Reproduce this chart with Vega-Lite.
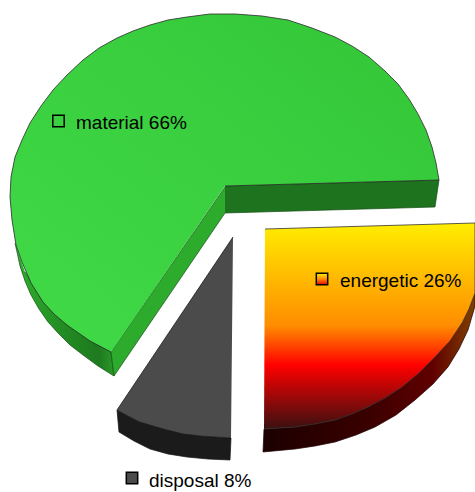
{"$schema":"https://vega.github.io/schema/vega-lite/v6.json","autosize":"none","width":475,"height":492,"padding":0,"background":"white","view":{"stroke":null},
"datasets":{"shapes":[
{"part":"matOuter","x":15,"y":243},{"part":"matOuter","x":17,"y":252},{"part":"matOuter","x":20,"y":266},{"part":"matOuter","x":25,"y":281},{"part":"matOuter","x":31,"y":295},{"part":"matOuter","x":39,"y":309},{"part":"matOuter","x":48,"y":322},{"part":"matOuter","x":58,"y":333},{"part":"matOuter","x":70,"y":345},{"part":"matOuter","x":83,"y":355},{"part":"matOuter","x":98,"y":366},{"part":"matOuter","x":114,"y":376},{"part":"matOuter","x":111,"y":352},{"part":"matOuter","x":90,"y":340},{"part":"matOuter","x":67,"y":324},{"part":"matOuter","x":43,"y":300},{"part":"matOuter","x":25,"y":272},
{"part":"matInner","x":225,"y":187},{"part":"matInner","x":111,"y":352},{"part":"matInner","x":114,"y":376},{"part":"matInner","x":225,"y":213},
{"part":"matBack","x":225,"y":186},{"part":"matBack","x":439,"y":180},{"part":"matBack","x":435,"y":207},{"part":"matBack","x":225,"y":213},
{"part":"matTop","x":225,"y":186},{"part":"matTop","x":439,"y":180},{"part":"matTop","x":436,"y":163},{"part":"matTop","x":432,"y":147},{"part":"matTop","x":426,"y":130},{"part":"matTop","x":418,"y":114},{"part":"matTop","x":409,"y":99},{"part":"matTop","x":398,"y":84},{"part":"matTop","x":385,"y":71},{"part":"matTop","x":369,"y":57},{"part":"matTop","x":352,"y":46},{"part":"matTop","x":335,"y":37},{"part":"matTop","x":312,"y":28},{"part":"matTop","x":288,"y":20},{"part":"matTop","x":262,"y":16},{"part":"matTop","x":235,"y":14},{"part":"matTop","x":210,"y":14},{"part":"matTop","x":187,"y":17},{"part":"matTop","x":168,"y":20},{"part":"matTop","x":150,"y":25},{"part":"matTop","x":133,"y":31},{"part":"matTop","x":117,"y":38},{"part":"matTop","x":99,"y":48},{"part":"matTop","x":83,"y":60},{"part":"matTop","x":67,"y":75},{"part":"matTop","x":53,"y":90},{"part":"matTop","x":41,"y":106},{"part":"matTop","x":30,"y":123},{"part":"matTop","x":22,"y":140},{"part":"matTop","x":15,"y":157},{"part":"matTop","x":11,"y":177},{"part":"matTop","x":10,"y":197},{"part":"matTop","x":12,"y":220},{"part":"matTop","x":16,"y":245},{"part":"matTop","x":22,"y":262},{"part":"matTop","x":31,"y":283},{"part":"matTop","x":43,"y":302},{"part":"matTop","x":54,"y":314},{"part":"matTop","x":67,"y":325},{"part":"matTop","x":90,"y":341},{"part":"matTop","x":111,"y":352},
{"part":"disSide","x":117,"y":410},{"part":"disSide","x":119,"y":432},{"part":"disSide","x":134,"y":441},{"part":"disSide","x":150,"y":449},{"part":"disSide","x":168,"y":454},{"part":"disSide","x":187,"y":457},{"part":"disSide","x":208,"y":459},{"part":"disSide","x":230,"y":460},{"part":"disSide","x":231,"y":438},{"part":"disSide","x":200,"y":436},{"part":"disSide","x":167,"y":430},{"part":"disSide","x":140,"y":422},
{"part":"disTop","x":233,"y":237},{"part":"disTop","x":117,"y":410},{"part":"disTop","x":128,"y":416},{"part":"disTop","x":140,"y":422},{"part":"disTop","x":153,"y":426},{"part":"disTop","x":167,"y":430},{"part":"disTop","x":183,"y":434},{"part":"disTop","x":200,"y":436},{"part":"disTop","x":216,"y":437},{"part":"disTop","x":231,"y":438},
{"part":"eneSide","x":475,"y":293},{"part":"eneSide","x":475,"y":306},{"part":"eneSide","x":468,"y":330},{"part":"eneSide","x":459,"y":349},{"part":"eneSide","x":448,"y":367},{"part":"eneSide","x":433,"y":384},{"part":"eneSide","x":415,"y":400},{"part":"eneSide","x":396,"y":415},{"part":"eneSide","x":375,"y":427},{"part":"eneSide","x":356,"y":435},{"part":"eneSide","x":335,"y":442},{"part":"eneSide","x":315,"y":446},{"part":"eneSide","x":295,"y":449},{"part":"eneSide","x":263,"y":452},{"part":"eneSide","x":264,"y":429},{"part":"eneSide","x":295,"y":427},{"part":"eneSide","x":335,"y":420},{"part":"eneSide","x":368,"y":407},{"part":"eneSide","x":402,"y":387},{"part":"eneSide","x":435,"y":357},{"part":"eneSide","x":462,"y":323},
{"part":"eneTop","x":265,"y":229},{"part":"eneTop","x":475,"y":223},{"part":"eneTop","x":475,"y":293},{"part":"eneTop","x":469,"y":309},{"part":"eneTop","x":462,"y":323},{"part":"eneTop","x":450,"y":341},{"part":"eneTop","x":435,"y":357},{"part":"eneTop","x":419,"y":373},{"part":"eneTop","x":402,"y":387},{"part":"eneTop","x":385,"y":398},{"part":"eneTop","x":368,"y":407},{"part":"eneTop","x":352,"y":414},{"part":"eneTop","x":335,"y":420},{"part":"eneTop","x":315,"y":424},{"part":"eneTop","x":295,"y":427},{"part":"eneTop","x":264,"y":429}
],
"labels":[
{"name":"material","share":66,"label":"material 66%","mx":58.5,"my":121,"tx":76,"ty":129},
{"name":"energetic","share":26,"label":"energetic 26%","mx":322,"my":279,"tx":340,"ty":287},
{"name":"disposal","share":8,"label":"disposal 8%","mx":132,"my":478,"tx":149,"ty":487}
]},
"encoding":{"x":{"field":"x","type":"quantitative","scale":{"domain":[0,475]},"axis":null},"y":{"field":"y","type":"quantitative","scale":{"domain":[492,0]},"axis":null},"order":{"field":"i"}},
"layer":[
{"data":{"name":"shapes"},"transform":[{"filter":"datum.part==='matOuter'"},{"window":[{"op":"row_number","as":"i"}]}],"mark":{"type":"line","strokeWidth":0.7,"stroke":"#0f4f0f","fill":{"gradient":"linear","x1":0,"y1":0,"x2":1,"y2":0,"stops":[{"offset":0,"color":"#2fb02f"},{"offset":0.5,"color":"#228a22"},{"offset":0.85,"color":"#1e7a1e"},{"offset":1,"color":"#2a9a2a"}]}}},
{"data":{"name":"shapes"},"transform":[{"filter":"datum.part==='matInner'"},{"window":[{"op":"row_number","as":"i"}]}],"mark":{"type":"line","strokeWidth":0.7,"stroke":"#174f17","fill":"#2dab2d"}},
{"data":{"name":"shapes"},"transform":[{"filter":"datum.part==='matBack'"},{"window":[{"op":"row_number","as":"i"}]}],"mark":{"type":"line","strokeWidth":0.7,"stroke":"#174f17","fill":"#1e731e"}},
{"data":{"name":"shapes"},"transform":[{"filter":"datum.part==='matTop'"},{"window":[{"op":"row_number","as":"i"}]}],"mark":{"type":"line","strokeWidth":0.8,"stroke":"#2a2a2a","fill":{"gradient":"linear","x1":0,"y1":1,"x2":1,"y2":0,"stops":[{"offset":0,"color":"#41da47"},{"offset":1,"color":"#33c638"}]}}},
{"data":{"name":"shapes"},"transform":[{"filter":"datum.part==='disSide'"},{"window":[{"op":"row_number","as":"i"}]}],"mark":{"type":"line","strokeWidth":0.7,"stroke":"#111111","fill":"#1b1b1b"}},
{"data":{"name":"shapes"},"transform":[{"filter":"datum.part==='disTop'"},{"window":[{"op":"row_number","as":"i"}]}],"mark":{"type":"line","strokeWidth":0.8,"stroke":"#1a1a1a","fill":"#4b4b4b"}},
{"data":{"name":"shapes"},"transform":[{"filter":"datum.part==='eneSide'"},{"window":[{"op":"row_number","as":"i"}]}],"mark":{"type":"line","strokeWidth":0.7,"stroke":"#1a0000","fill":{"gradient":"linear","x1":0,"y1":0,"x2":1,"y2":0,"stops":[{"offset":0,"color":"#1c0000"},{"offset":0.5,"color":"#3a0000"},{"offset":0.8,"color":"#600000"},{"offset":1,"color":"#804000"}]}}},
{"data":{"name":"shapes"},"transform":[{"filter":"datum.part==='eneTop'"},{"window":[{"op":"row_number","as":"i"}]}],"mark":{"type":"line","strokeWidth":0.8,"stroke":"#333333","fill":{"gradient":"linear","x1":0,"y1":0,"x2":0,"y2":1,"stops":[{"offset":0,"color":"#ffee00"},{"offset":0.5,"color":"#ff8c00"},{"offset":0.69,"color":"#ff0000"},{"offset":1,"color":"#3a1010"}]}}},
{"data":{"name":"labels"},"transform":[{"filter":"datum.name==='material'"}],"mark":{"type":"point","shape":"square","size":130,"filled":true,"fill":"#3ad03f","stroke":"#000000","strokeWidth":1.5,"opacity":1},"encoding":{"x":{"field":"mx","type":"quantitative","scale":{"domain":[0,475]},"axis":null},"y":{"field":"my","type":"quantitative","scale":{"domain":[492,0]},"axis":null},"order":{"value":0}}},
{"data":{"name":"labels"},"transform":[{"filter":"datum.name==='energetic'"}],"mark":{"type":"point","shape":"square","size":130,"filled":true,"fill":{"gradient":"linear","x1":0,"y1":0,"x2":0,"y2":1,"stops":[{"offset":0,"color":"#ffee00"},{"offset":0.5,"color":"#ff8c00"},{"offset":1,"color":"#ee0000"}]},"stroke":"#000000","strokeWidth":1.5,"opacity":1},"encoding":{"x":{"field":"mx","type":"quantitative","scale":{"domain":[0,475]},"axis":null},"y":{"field":"my","type":"quantitative","scale":{"domain":[492,0]},"axis":null},"order":{"value":0}}},
{"data":{"name":"labels"},"transform":[{"filter":"datum.name==='disposal'"}],"mark":{"type":"point","shape":"square","size":130,"filled":true,"fill":"#4b4b4b","stroke":"#000000","strokeWidth":1.5,"opacity":1},"encoding":{"x":{"field":"mx","type":"quantitative","scale":{"domain":[0,475]},"axis":null},"y":{"field":"my","type":"quantitative","scale":{"domain":[492,0]},"axis":null},"order":{"value":0}}},
{"data":{"name":"labels"},"mark":{"type":"text","align":"left","baseline":"alphabetic","font":"Liberation Sans","fontSize":19,"color":"#000000"},"encoding":{"x":{"field":"tx","type":"quantitative","scale":{"domain":[0,475]},"axis":null},"y":{"field":"ty","type":"quantitative","scale":{"domain":[492,0]},"axis":null},"text":{"field":"label"},"order":{"value":0}}}
]}
